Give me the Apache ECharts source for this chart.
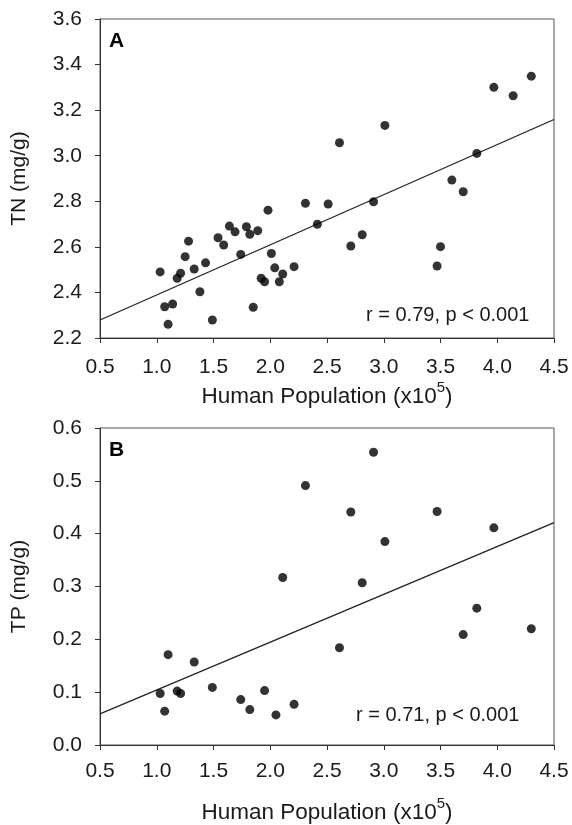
<!DOCTYPE html>
<html>
<head>
<meta charset="utf-8">
<script src="https://cdn.jsdelivr.net/npm/echarts@6/dist/echarts.min.js"></script>
<style>
html,body{margin:0;padding:0;background:#fff;}
#c{width:572px;height:825px;}
</style>
</head>
<body>
<div id="c"></div>
<script>
// Panel A: TN vs human population
var popA = [1.03,1.07,1.14,1.10,1.18,1.21,1.25,1.28,1.33,1.38,1.43,1.49,1.54,1.59,1.64,1.69,1.74,1.79,1.82,1.89,1.85,1.92,1.95,1.98,2.01,2.04,2.08,2.11,2.21,2.31,2.415,2.51,2.61,2.71,2.81,2.91,3.01,3.47,3.50,3.60,3.70,3.82,3.97,4.14,4.30];
var tnA  = [2.49,2.337,2.349,2.26,2.462,2.484,2.557,2.625,2.503,2.403,2.53,2.279,2.64,2.608,2.691,2.666,2.567,2.688,2.655,2.671,2.335,2.462,2.447,2.761,2.571,2.508,2.447,2.481,2.513,2.791,2.699,2.788,3.057,2.604,2.653,2.798,3.133,2.516,2.601,2.893,2.842,3.010,3.300,3.263,3.349];
var fitAx = [0.5,4.5];
var fitAy = [2.279,3.159];
// Panel B: TP vs human population
var popB = [1.03,1.07,1.10,1.18,1.21,1.33,1.49,1.74,1.82,1.95,2.05,2.21,2.11,2.31,2.61,2.71,2.81,2.91,3.01,3.47,3.70,3.82,3.97,4.30];
var tpB  = [0.0975,0.064,0.171,0.102,0.0975,0.157,0.109,0.086,0.067,0.103,0.057,0.077,0.317,0.491,0.184,0.441,0.307,0.554,0.385,0.442,0.209,0.259,0.411,0.220];
var fitBx = [0.5,4.5];
var fitBy = [0.059,0.421];
// Axis ticks
var xTicks = [0.5,1.0,1.5,2.0,2.5,3.0,3.5,4.0,4.5];
var yTicksA = [2.2,2.4,2.6,2.8,3.0,3.2,3.4,3.6];
var yTicksB = [0.0,0.1,0.2,0.3,0.4,0.5,0.6];
var xName = 'Human Population (x10';
var yNameA = 'TN (mg/g)';
var yNameB = 'TP (mg/g)';
var statA = 'r = 0.79, p < 0.001';
var statB = 'r = 0.71, p < 0.001';

function pairs(xs, ys){ return xs.map(function(x,i){return [x, ys[i]];}); }

var FONT = 'Liberation Sans, Arial, sans-serif';
var axisCol = '#333';
var txtCol = '#1a1a1a';

function xAxis(gi, margin, gap){
  return {
    type:'value', gridIndex:gi, min:xTicks[0], max:xTicks[xTicks.length-1], interval:0.5,
    axisLine:{show:true, lineStyle:{color:axisCol, width:1}},
    axisTick:{show:true, inside:false, length:5, lineStyle:{color:axisCol}},
    splitLine:{show:false},
    axisLabel:{color:txtCol, fontSize:21, fontFamily:FONT, margin:margin,
      formatter:function(v){return v.toFixed(1);}},
    name:'{a|' + xName + '}{s|5}{a|)}', nameLocation:'middle', nameGap:gap,
    nameTextStyle:{fontFamily:FONT, color:txtCol,
      rich:{a:{fontSize:22.5, fontFamily:FONT, color:txtCol, lineHeight:28, verticalAlign:'bottom'},
            s:{fontSize:15, fontFamily:FONT, color:txtCol, lineHeight:28, verticalAlign:'top'}}}
  };
}
function yAxis(gi, ticks, name, step){
  return {
    type:'value', gridIndex:gi, min:ticks[0], max:ticks[ticks.length-1], interval:step,
    axisLine:{show:true, lineStyle:{color:axisCol, width:1}},
    axisTick:{show:true, inside:false, length:5, lineStyle:{color:axisCol}},
    splitLine:{show:false},
    axisLabel:{color:txtCol, fontSize:21, fontFamily:FONT, margin:18,
      formatter:function(v){return v.toFixed(1);}},
    name:name, nameLocation:'middle', nameGap:70,
    nameTextStyle:{fontSize:21, fontFamily:FONT, color:txtCol}
  };
}

var chart = echarts.init(document.getElementById('c'), null, {renderer:'canvas'});
chart.setOption({
  backgroundColor:'#fff',
  animation:false,
  grid:[
    {left:100, top:19, width:454, height:319, show:true, borderColor:'#555', borderWidth:1, backgroundColor:'transparent'},
    {left:100, top:428, width:454, height:318, show:true, borderColor:'#555', borderWidth:1, backgroundColor:'transparent'}
  ],
  xAxis:[xAxis(0, 19, 42), xAxis(1, 16, 51)],
  yAxis:[yAxis(0, yTicksA, yNameA, 0.2), yAxis(1, yTicksB, yNameB, 0.1)],
  series:[
    {type:'line', xAxisIndex:0, yAxisIndex:0, data:pairs(fitAx, fitAy), symbol:'none',
      lineStyle:{color:'#222', width:1.3}, z:2},
    {type:'scatter', xAxisIndex:0, yAxisIndex:0, data:pairs(popA, tnA), symbol:'circle', symbolSize:9,
      itemStyle:{color:'#000'}, z:3},
    {type:'line', xAxisIndex:1, yAxisIndex:1, data:pairs(fitBx, fitBy), symbol:'none',
      lineStyle:{color:'#222', width:1.3}, z:2},
    {type:'scatter', xAxisIndex:1, yAxisIndex:1, data:pairs(popB, tpB), symbol:'circle', symbolSize:9,
      itemStyle:{color:'#000'}, z:3}
  ],
  graphic:[
    {type:'text', left:109, top:31, style:{text:'A', font:'bold 21px ' + FONT, fill:'#000'}},
    {type:'text', left:109, top:440, style:{text:'B', font:'bold 21px ' + FONT, fill:'#000'}},
    {type:'text', left:366, top:305, style:{text:statA, font:'20px ' + FONT, fill:txtCol}},
    {type:'text', left:356, top:705, style:{text:statB, font:'20px ' + FONT, fill:txtCol}}
  ]
});
</script>
</body>
</html>
